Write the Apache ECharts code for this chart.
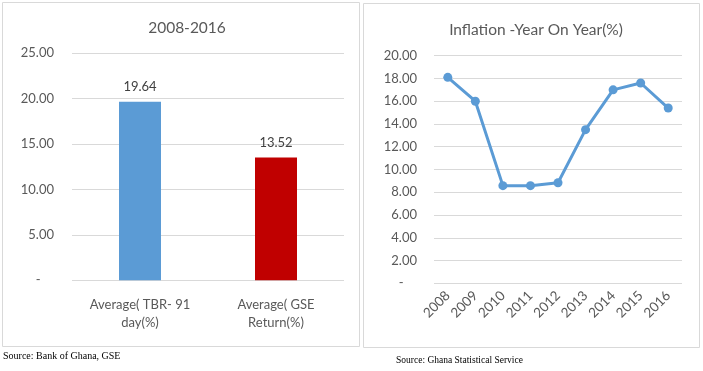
<!DOCTYPE html>
<html><head><meta charset="utf-8">
<script src="https://cdn.jsdelivr.net/npm/echarts@6/dist/echarts.min.js"></script>
<style>html,body{margin:0;padding:0;background:#fff}#c{width:703px;height:371px}</style>
</head><body><div id="c"></div>
<script>
var barCategories = ['Average( TBR- 91\nday(%)', 'Average( GSE\nReturn(%)'];
var barValues = [19.64, 13.52];
var barColors = ['#5b9bd5', '#c00000'];
var years = ['2008','2009','2010','2011','2012','2013','2014','2015','2016'];
var inflation = [18.1, 16.0, 8.58, 8.58, 8.84, 13.5, 17.0, 17.6, 15.4];

var font = 'Lato, "Open Sans", sans-serif';
var grey = '#595959';
function fmt(v){ return v === 0 ? '-    ' : v.toFixed(2); }

var chart = echarts.init(document.getElementById('c'));
chart.setOption({
  animation: false,
  textStyle: { fontFamily: font },
  title: [
    { text: '2008-2016', left: 182, top: 15, textAlign: 'center',
      textStyle: { fontFamily: font, fontSize: 15.5, fontWeight: 'normal', color: grey } },
    { text: 'Inflation -Year On Year(%)', left: 531, top: 17, textAlign: 'center',
      textStyle: { fontFamily: font, fontSize: 15.5, fontWeight: 'normal', color: grey } }
  ],
  graphic: [
    { type: 'rect', shape: { x: 2.5, y: 2.5, width: 357, height: 344 }, style: { fill: 'none', stroke: '#d9d9d9', lineWidth: 1 }, silent: true },
    { type: 'rect', shape: { x: 363.5, y: 3.5, width: 336, height: 344 }, style: { fill: 'none', stroke: '#d9d9d9', lineWidth: 1 }, silent: true },
    { type: 'text', left: 3, top: 351, style: { text: 'Source: Bank of Ghana, GSE', font: '10px "Liberation Serif", serif', fill: '#000' } },
    { type: 'text', left: 396, top: 355, style: { text: 'Source: Ghana Statistical Service', font: '9.5px "Liberation Serif", serif', fill: '#000' } }
  ],
  grid: [
    { left: 72, right: 359, top: 53, bottom: 90.7 },
    { left: 434, right: 21, top: 55.7, bottom: 87.7 }
  ],
  xAxis: [
    { type: 'category', gridIndex: 0, data: barCategories,
      axisLine: { show: false }, axisTick: { show: false },
      axisLabel: { color: grey, fontSize: 13, lineHeight: 18, margin: 16, fontFamily: font } },
    { type: 'category', gridIndex: 1, data: years,
      axisLine: { show: false }, axisTick: { show: false },
      axisLabel: { color: grey, fontSize: 13.5, rotate: 45, margin: 10, fontFamily: font } }
  ],
  yAxis: [
    { type: 'value', gridIndex: 0, min: 0, max: 25, interval: 5,
      axisLine: { show: false }, axisTick: { show: false },
      axisLabel: { color: grey, fontSize: 13, margin: 18, formatter: fmt, fontFamily: font },
      splitLine: { lineStyle: { color: '#d9d9d9' } } },
    { type: 'value', gridIndex: 1, min: 0, max: 20, interval: 2,
      axisLine: { show: false }, axisTick: { show: false },
      axisLabel: { color: grey, fontSize: 13, margin: 17, formatter: fmt, fontFamily: font },
      splitLine: { lineStyle: { color: '#d9d9d9' } } }
  ],
  series: [
    { type: 'bar', xAxisIndex: 0, yAxisIndex: 0, barWidth: 42,
      data: barValues.map(function(v, i){ return { value: v, itemStyle: { color: barColors[i] } }; }),
      label: { show: true, position: 'top', distance: 8, color: '#404040', fontSize: 13, fontFamily: font,
               formatter: function(p){ return p.value.toFixed(2); } } },
    { type: 'line', xAxisIndex: 1, yAxisIndex: 1, data: inflation,
      symbol: 'circle', symbolSize: 9,
      lineStyle: { color: '#5b9bd5', width: 3 },
      itemStyle: { color: '#5b9bd5' } }
  ]
});
</script></body></html>
